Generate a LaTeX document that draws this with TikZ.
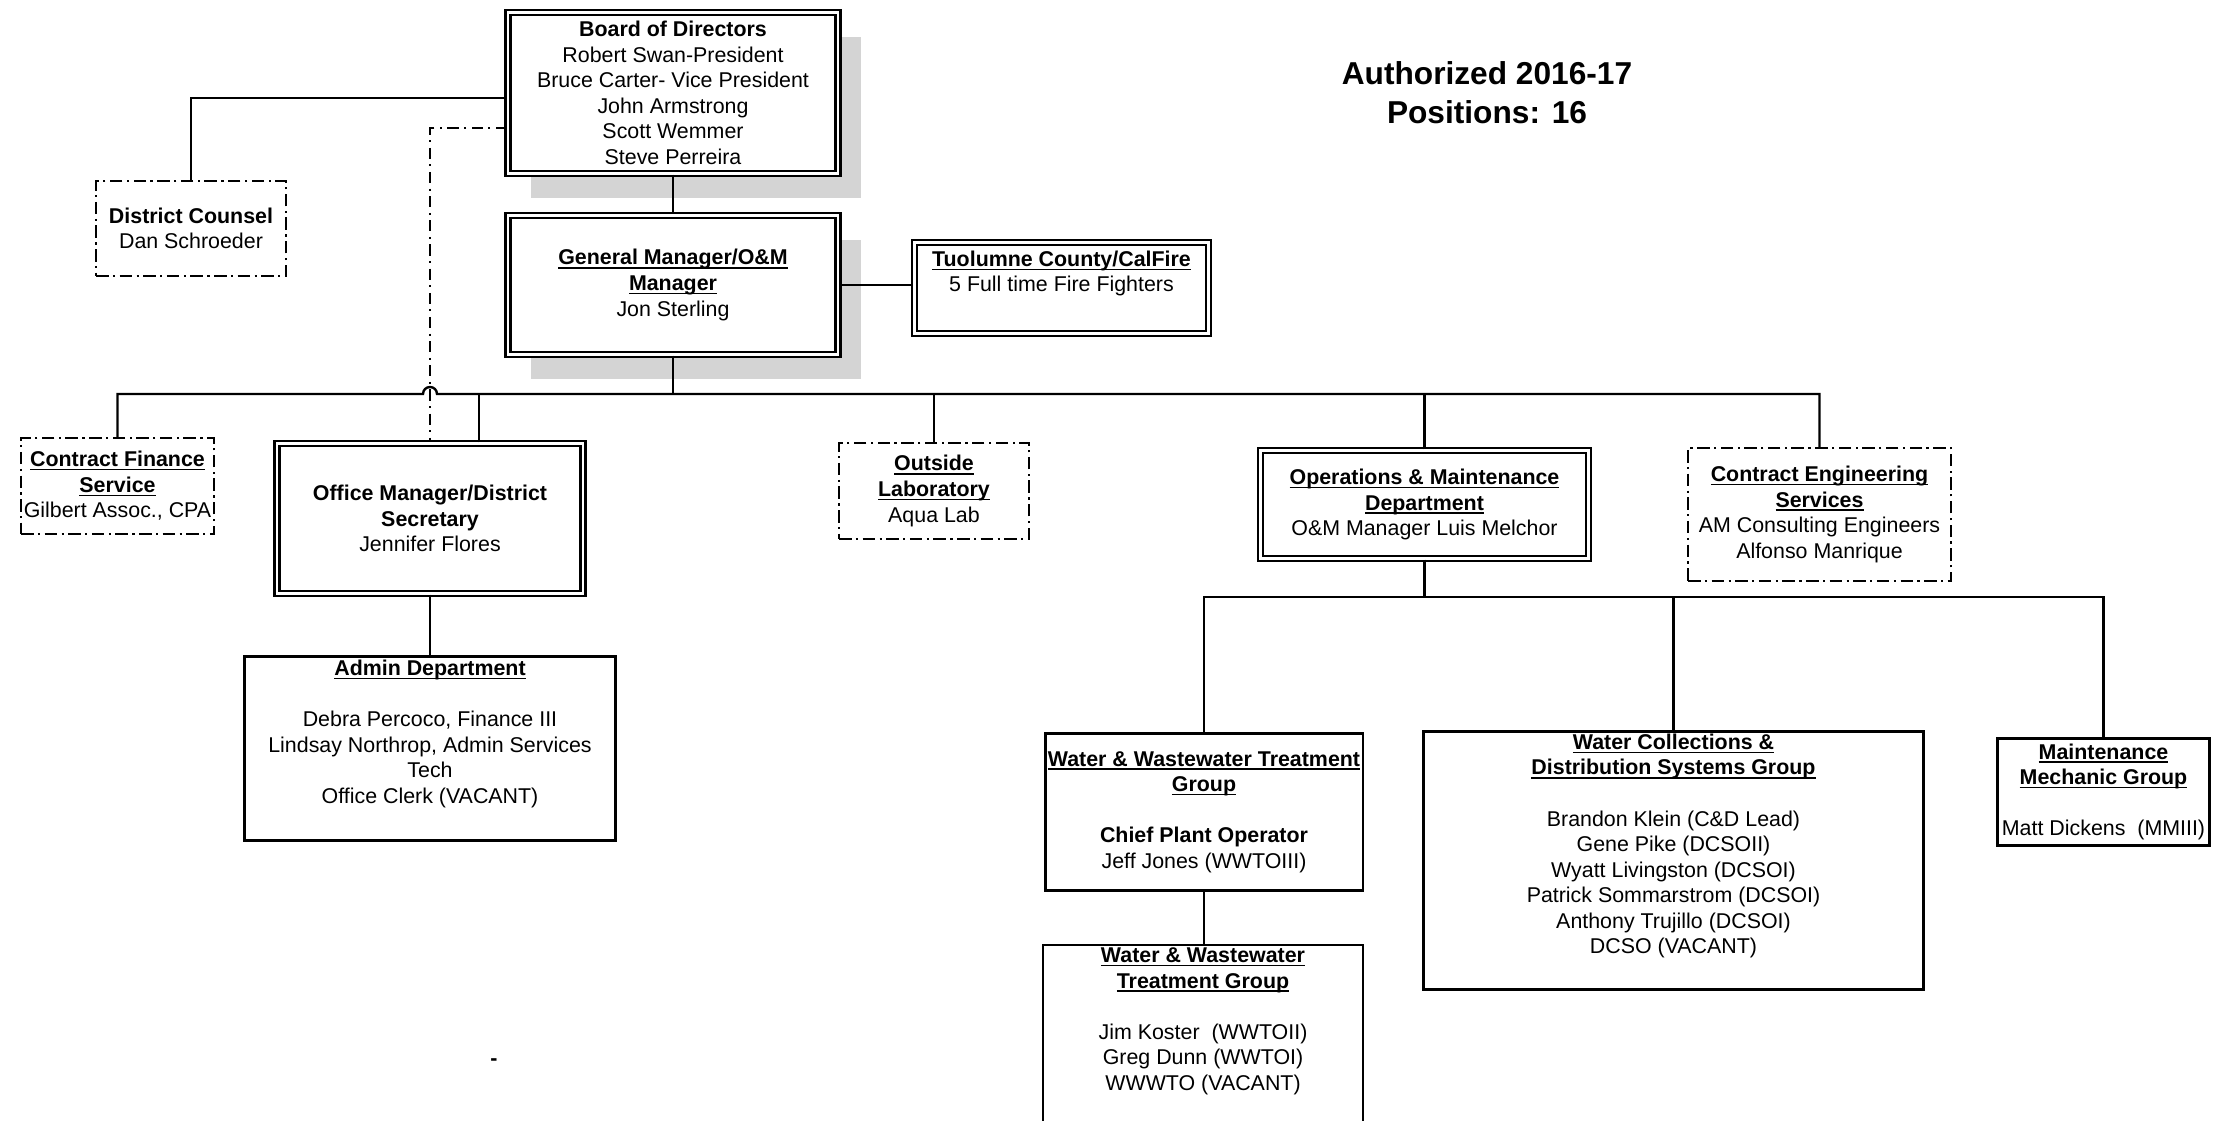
\documentclass[tikz,border=0pt]{standalone}
\usepackage{fontspec}
\setmainfont{Liberation Sans}
\usetikzlibrary{shadows}
\newsavebox\ulbox
\newcommand\ulb[1]{\sbox\ulbox{#1}\rlap{\rule[-1.3pt]{\wd\ulbox}{0.5pt}}\usebox\ulbox}
\def\pxu{0.36pt}
\tikzset{
 base/.style={rectangle, fill=white, align=center, inner sep=1pt, font=\fontsize{7.7}{9.2}\selectfont, text=black},
 sz/.style 2 args={minimum width=#1*\pxu, minimum height=#2*\pxu},
 dblbox/.style={base, draw, line width=0.8pt, double, double distance=1.0pt},
 sglbox/.style={base, draw, line width=1pt},
 ddbox/.style={base, draw, line width=0.8pt, dash pattern=on 4.5pt off 1.6pt on 0.8pt off 1.6pt},
 shadowed/.style={general shadow={fill=black!17, shadow xshift=23*\pxu, shadow yshift=-25*\pxu}},
 conn/.style={draw, line width=0.85pt},
 ddconn/.style={draw, line width=0.65pt, dash pattern=on 4pt off 2pt on 0.7pt off 2pt},
 title/.style={align=center, inner sep=0pt, font=\fontsize{11.4}{14}\selectfont\bfseries},
}
\begin{document}
\begin{tikzpicture}[x=0.36pt,y=-0.36pt]
\useasboundingbox (0,0) rectangle (2227,1121);
\coordinate (bus) at (0,394);
\coordinate (sub) at (0,597);

\node[dblbox, shadowed, sz={330}{161}] (board) at (673,93)
 {\textbf{Board of Directors}\\ Robert Swan-President\\ Bruce Carter- Vice President\\ John Armstrong\\ Scott Wemmer\\ Steve Perreira};
\node[dblbox, shadowed, sz={330}{139}] (gm) at (673,285)
 {\ulb{\textbf{General Manager/O\&M}}\\ \ulb{\textbf{Manager}}\\ Jon Sterling};
\node[dblbox, sz={294}{91}] (tuol) at (1061.5,288)
 {\ulb{\textbf{Tuolumne County/CalFire}}\\ 5 Full time Fire Fighters\\ \strut};
\node[ddbox, sz={190}{95}] (counsel) at (191,228.5)
 {\textbf{District Counsel}\\ Dan Schroeder};
\node[ddbox, sz={191}{96}] (cf) at (117.5,486)
 {\ulb{\textbf{Contract Finance}}\\ \ulb{\textbf{Service}}\\ Gilbert Assoc., CPA};
\node[dblbox, sz={306}{150}] (om) at (430,518.5)
 {\textbf{Office Manager/District}\\ \textbf{Secretary}\\ Jennifer Flores};
\node[sglbox, sz={371}{184}] (admin) at (430,748.5)
 {\ulb{\textbf{Admin Department}}\\ \strut\\ Debra Percoco, Finance III\\ Lindsay Northrop, Admin Services\\ Tech\\ Office Clerk (VACANT)\\ \strut};
\node[ddbox, sz={190}{96}] (lab) at (934,491)
 {\ulb{\textbf{Outside}}\\ \ulb{\textbf{Laboratory}}\\ Aqua Lab};
\node[dblbox, sz={328}{108}] (omd) at (1424.5,504.5)
 {\ulb{\textbf{Operations \& Maintenance}}\\ \ulb{\textbf{Department}}\\ O\&M Manager Luis Melchor};
\node[ddbox, sz={263}{133}] (ce) at (1819.5,514.5)
 {\ulb{\textbf{Contract Engineering}}\\ \ulb{\textbf{Services}}\\ AM Consulting Engineers\\ Alfonso Manrique};
\node[sglbox, sz={316}{157}] (wwt1) at (1204,812)
 {\ulb{\textbf{Water \& Wastewater Treatment}}\\ \ulb{\textbf{Group}}\\ \strut\\ \textbf{Chief Plant Operator}\\ Jeff Jones (WWTOIII)};
\node[sglbox, sz={500}{252}] (wcds) at (1673.5,860.5)
 {\ulb{\textbf{Water Collections \&}}\\ \ulb{\textbf{Distribution Systems Group}}\\ \strut\\ Brandon Klein (C\&D Lead)\\ Gene Pike (DCSOII)\\ Wyatt Livingston (DCSOI)\\ Patrick Sommarstrom (DCSOI)\\ Anthony Trujillo (DCSOI)\\ DCSO (VACANT)\\ \strut};
\node[sglbox, sz={212}{107}] (mm) at (2103.5,792)
 {\ulb{\textbf{Maintenance}}\\ \ulb{\textbf{Mechanic Group}}\\ \strut\\ Matt Dickens\ \ (MMIII)};
\node[sglbox, sz={320}{200}] (wwt2) at (1203,1048.5)
 {\ulb{\textbf{Water \& Wastewater}}\\ \ulb{\textbf{Treatment Group}}\\ \strut\\ Jim Koster\ \ (WWTOII)\\ Greg Dunn (WWTOI)\\ WWWTO (VACANT)\\ \strut\\ \strut};

\node[title] (auth) at (1487,92.5) {Authorized 2016-17\\ Positions: 16};
\node[base, fill=none, font=\fontsize{7.7}{9.2}\selectfont\bfseries] (mark) at (494,1062) {-};

% connectors
\draw[conn] ([yshift=-5*\pxu]board.west) -| (counsel.north);
\draw[conn] (board.south) -- (board.south |- gm.north);
\draw[conn] (gm.east) -- (gm.east -| tuol.west);
\draw[ddconn] ([yshift=-35*\pxu]board.west) -| (om.north);
\draw[conn] (cf.north) |- ([xshift=-7*\pxu]om.north |- bus) arc[start angle=180, end angle=0, radius=7*\pxu] -| (ce.north);
\draw[conn] ([xshift=49*\pxu]om.north) -- ([xshift=49*\pxu]om.north |- bus);
\draw[conn] (gm.south) -- (gm.south |- bus);
\draw[conn] (lab.north) -- (lab.north |- bus);
\draw[conn] (omd.north) -- (omd.north |- bus);
\draw[conn] (om.south) -- (om.south |- admin.north);
\draw[conn] (omd.south) -- (omd.south |- sub);
\draw[conn] (wwt1.north) |- (mm.north |- sub) -- (mm.north);
\draw[conn] (wcds.north) -- (wcds.north |- sub);
\draw[conn] (wwt1.south) -- (wwt1.south |- wwt2.north);
\end{tikzpicture}
\end{document}
